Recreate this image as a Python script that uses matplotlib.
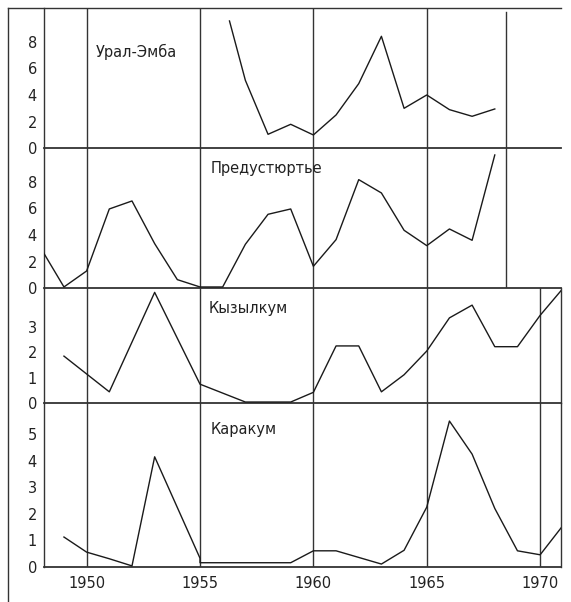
import matplotlib
matplotlib.use("Agg")
import matplotlib.pyplot as plt
from matplotlib.lines import Line2D

# ---- data -------------------------------------------------------------
ural_years = [1956.3, 1957, 1958, 1959, 1960, 1961, 1962, 1963, 1964, 1965, 1966, 1967, 1968]
ural_vals = [9.55, 5.1, 1.05, 1.8, 1.0, 2.5, 4.85, 8.4, 3.0, 4.0, 2.9, 2.4, 2.95]

pred_years = [1948, 1949, 1950, 1951, 1952, 1953, 1954, 1955, 1956, 1957, 1958, 1959,
              1960, 1961, 1962, 1963, 1964, 1965, 1966, 1967, 1968]
pred_vals = [2.95, 0.1, 1.3, 5.95, 6.55, 3.35, 0.65, 0.1, 0.1, 3.3, 5.55, 5.95,
             1.65, 3.65, 8.15, 7.15, 4.35, 3.2, 4.45, 3.6, 10.0]

kyz_years = [1949, 1951, 1953, 1955, 1957, 1958, 1959, 1960, 1961, 1962, 1963, 1964,
             1965, 1966, 1967, 1968, 1969, 1970, 1971]
kyz_vals = [1.85, 0.45, 4.35, 0.75, 0.05, 0.05, 0.05, 0.43, 2.25, 2.25, 0.45, 1.12,
            2.05, 3.35, 3.85, 2.22, 2.22, 3.45, 4.5]

kar_years = [1949, 1950, 1951, 1952, 1953, 1955, 1955, 1956, 1957, 1958, 1959, 1960,
             1961, 1963, 1964, 1965, 1966, 1967, 1968, 1969, 1970, 1971]
kar_vals = [1.12, 0.55, 0.3, 0.03, 4.15, 0.32, 0.15, 0.15, 0.15, 0.15, 0.15, 0.6,
            0.6, 0.1, 0.62, 2.25, 5.5, 4.25, 2.2, 0.6, 0.45, 1.55]

panels = [
    dict(name="Урал-Эмба", years=ural_years, vals=ural_vals, ylim=10.5,
         yticks=[0, 2, 4, 6, 8], vlines=[1950, 1955, 1960, 1965, 1968.5],
         label_xy=(1950.4, 7.2), right=False),
    dict(name="Предустюртье", years=pred_years, vals=pred_vals, ylim=10.5,
         yticks=[0, 2, 4, 6, 8], vlines=[1950, 1955, 1960, 1965, 1968.5],
         label_xy=(1955.45, 9.0), right=False),
    dict(name="Кызылкум", years=kyz_years, vals=kyz_vals, ylim=4.51,
         yticks=[0, 1, 2, 3], vlines=[1950, 1955, 1960, 1965, 1970],
         label_xy=(1955.4, 3.73), right=True),
    dict(name="Каракум", years=kar_years, vals=kar_vals, ylim=6.17,
         yticks=[0, 1, 2, 3, 4, 5], vlines=[1950, 1955, 1960, 1965, 1970],
         label_xy=(1955.45, 5.18), right=True),
]
xticks = [1950, 1955, 1960, 1965, 1970]

# ---- layout -----------------------------------------------------------
W, H = 571, 602
fig = plt.figure(figsize=(W / 100, H / 100), dpi=100)
fig.patch.set_facecolor("white")

left_px, right_px = 44, 561
bounds_px = [(8.3, 148.3), (148.3, 288.3), (288.3, 403.3), (403.3, 566.7)]
XMIN, XMAX = 1948.12, 1970.92

ink = "#1a1a1a"
grid_c = "#333333"
plt.rcParams["font.family"] = ["DejaVu Sans"]

for i, (p, (top, bot)) in enumerate(zip(panels, bounds_px)):
    ax = fig.add_axes([left_px / W, 1 - bot / H, (right_px - left_px) / W, (bot - top) / H])
    ax.set_xlim(XMIN, XMAX)
    ax.set_ylim(0, p["ylim"])
    ax.patch.set_alpha(0)
    for v in p["vlines"]:
        ymax = 0.975 if (i == 0 and v == 1968.5) else 1
        ax.axvline(v, ymin=0, ymax=ymax, color=grid_c, lw=1.0, zorder=1)
    ax.plot(p["years"], p["vals"], color=ink, lw=1.0, zorder=3, clip_on=True)
    ax.text(p["label_xy"][0], p["label_xy"][1], p["name"], fontsize=10.5,
            color="#222222", va="center", ha="left")
    for s in ["top", "right"]:
        ax.spines[s].set_visible(False)
    if p["right"]:
        ax.spines["right"].set_visible(True)
    for s in ["left", "bottom", "right"]:
        ax.spines[s].set_color(grid_c)
        ax.spines[s].set_linewidth(1.0)
    ax.spines["bottom"].set_linewidth(1.3)
    ax.set_yticks(p["yticks"])
    ax.tick_params(axis="y", length=0, pad=5, labelsize=10.5, colors="#222222")
    if i == 3:
        ax.set_xticks(xticks)
        ax.tick_params(axis="x", length=0, pad=7, labelsize=10.5, colors="#222222")
    else:
        ax.set_xticks([])

# outer frame lines (left and top)
fig.add_artist(Line2D([8 / W, 8 / W], [0, 1 - 8.3 / H], transform=fig.transFigure,
                      color=grid_c, lw=1.0))
fig.add_artist(Line2D([8 / W, right_px / W], [1 - 8.3 / H, 1 - 8.3 / H],
                      transform=fig.transFigure, color=grid_c, lw=1.0))

fig.savefig("out.png", dpi=100, facecolor="white")
